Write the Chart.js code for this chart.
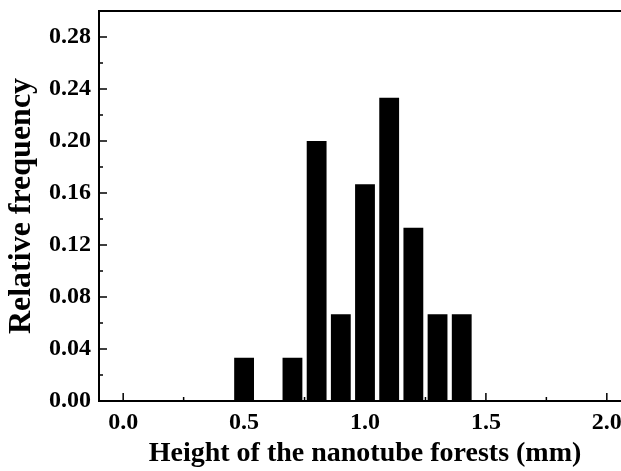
<!DOCTYPE html>
<html>
<head>
<meta charset="utf-8">
<script src="https://cdn.jsdelivr.net/npm/chart.js@4/dist/chart.umd.min.js"></script>
<style>
  body { margin: 0; background: #fff; overflow: hidden; }
  #wrap { width: 621px; height: 471px; overflow: hidden; }
  #histChart { display: block; }
</style>
</head>
<body>
<div id="wrap"><canvas id="histChart" width="660" height="471"></canvas></div>
<script>
// bin centres (mm) and relative frequency
const heights = [0.5, 0.7, 0.8, 0.9, 1.0, 1.1, 1.2, 1.3, 1.4];
const frequency = [0.0333, 0.0333, 0.2, 0.0667, 0.1667, 0.2333, 0.1333, 0.0667, 0.0667];

const xTicks = [0, 0.5, 1.0, 1.5, 2.0];
const xMinorTicks = [0.25, 0.75, 1.25, 1.75];
const yTicks = [0, 0.04, 0.08, 0.12, 0.16, 0.20, 0.24, 0.28];
const yMinorTicks = [0.02, 0.06, 0.10, 0.14, 0.18, 0.22, 0.26];

const serif = 'Liberation Serif';

// inward tick marks and top frame line, like the origin plot
const frameTicks = {
  id: 'frameTicks',
  beforeDatasetsDraw(chart) {
    const {ctx, chartArea: a, scales: {x, y}} = chart;
    ctx.save();
    ctx.strokeStyle = '#000';
    ctx.lineWidth = 1.5;
    ctx.beginPath();
    xTicks.forEach(v => {
      let px = x.getPixelForValue(v);
      ctx.moveTo(px, a.bottom); ctx.lineTo(px, a.bottom - 8);
    });
    xMinorTicks.forEach(v => {
      let px = x.getPixelForValue(v);
      ctx.moveTo(px, a.bottom); ctx.lineTo(px, a.bottom - 4);
    });
    yTicks.forEach(v => {
      let py = y.getPixelForValue(v);
      ctx.moveTo(a.left, py); ctx.lineTo(a.left + 8, py);
    });
    yMinorTicks.forEach(v => {
      let py = y.getPixelForValue(v);
      ctx.moveTo(a.left, py); ctx.lineTo(a.left + 4, py);
    });
    ctx.stroke();
    ctx.lineWidth = 2;
    ctx.beginPath();
    ctx.moveTo(a.left, a.top); ctx.lineTo(a.right, a.top);
    ctx.stroke();
    ctx.restore();
  }
};

let hist = new Chart(document.getElementById('histChart'), {
  type: 'bar',
  data: {
    datasets: [{
      label: 'Relative frequency',
      data: heights.map((h, i) => ({x: h, y: frequency[i]})),
      backgroundColor: '#000',
      borderWidth: 0,
      barPercentage: 0.82,
      categoryPercentage: 1
    }]
  },
  options: {
    responsive: false,
    animation: false,
    layout: { padding: { top: 11, right: 29, left: 0, bottom: 0 } },
    plugins: { legend: { display: false }, tooltip: { enabled: false } },
    scales: {
      x: {
        type: 'linear',
        min: -0.1,
        max: 2.1,
        offset: false,
        grid: { display: false, drawTicks: false, offset: false },
        border: { display: true, color: '#000', width: 2, z: 1 },
        afterBuildTicks: s => { s.ticks = xTicks.map(v => ({value: v})); },
        afterFit: s => { s.height = 70; s.paddingLeft = 0; s.paddingRight = 0; },
        ticks: {
          color: '#000',
          padding: 7,
          maxRotation: 0,
          font: { family: serif, size: 24, weight: 'bold' },
          callback: v => v.toFixed(1)
        },
        title: {
          display: true,
          text: 'Height of the nanotube forests (mm)',
          color: '#000',
          padding: { top: 0, bottom: 0 },
          font: { family: serif, size: 28, weight: 'bold' }
        }
      },
      y: {
        min: 0,
        max: 0.3,
        grid: { display: false, drawTicks: false },
        border: { display: true, color: '#000', width: 2 },
        afterBuildTicks: s => { s.ticks = yTicks.map(v => ({value: v})); },
        afterFit: s => { s.width = 99; s.paddingTop = 0; s.paddingBottom = 0; },
        ticks: {
          color: '#000',
          padding: 8,
          font: { family: serif, size: 24, weight: 'bold' },
          callback: v => v.toFixed(2)
        },
        title: {
          display: true,
          text: 'Relative frequency',
          color: '#000',
          padding: { top: 3, bottom: 0 },
          font: { family: serif, size: 32, weight: 'bold' }
        }
      }
    }
  },
  plugins: [frameTicks]
});
</script>
</body>
</html>
